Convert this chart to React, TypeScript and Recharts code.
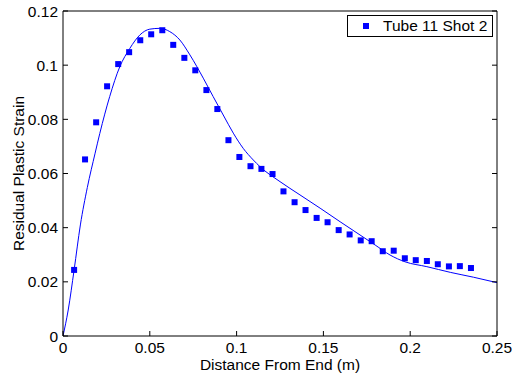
import { ComposedChart, Line, Scatter, XAxis, YAxis, Legend, Label } from 'recharts'

// measured strain, one reading every quarter inch
const pointX = [
  0.0064, 0.0127, 0.0191, 0.0254, 0.0318, 0.0381, 0.0445, 0.0508, 0.0572, 0.0635,
  0.0699, 0.0762, 0.0826, 0.0889, 0.0953, 0.1016, 0.108, 0.1143, 0.1207, 0.127,
  0.1334, 0.1397, 0.1461, 0.1524, 0.1588, 0.1651, 0.1715, 0.1778, 0.1842, 0.1905,
  0.1969, 0.2032, 0.2096, 0.2159, 0.2223, 0.2286, 0.235,
]
const pointY = [
  0.0244, 0.0652, 0.0789, 0.0922, 0.1004, 0.1048, 0.1092, 0.1114, 0.1129, 0.1075,
  0.1027, 0.0981, 0.0908, 0.0838, 0.0723, 0.0661, 0.0627, 0.0617, 0.0598, 0.0534,
  0.0494, 0.0465, 0.0436, 0.042, 0.0391, 0.0375, 0.0353, 0.035, 0.0313, 0.0315,
  0.0287, 0.028, 0.0277, 0.0265, 0.0257, 0.0258, 0.0251,
]

// fitted curve
const curveX = [
  0, 0.003, 0.0064, 0.01, 0.014, 0.0185, 0.0212, 0.0269, 0.0327, 0.0385, 0.0442,
  0.05, 0.0558, 0.0615, 0.0673, 0.0731, 0.0808, 0.0865, 0.0923, 0.0981, 0.1038,
  0.1096, 0.1135, 0.125, 0.1365, 0.1481, 0.1596, 0.1711, 0.1798, 0.1884, 0.197,
  0.2096, 0.2231, 0.2365, 0.25,
]
const curveY = [
  0, 0.0096, 0.0244, 0.041, 0.0548, 0.0675, 0.0748, 0.0884, 0.0994, 0.1062, 0.1111,
  0.1133, 0.1136, 0.1124, 0.1093, 0.1038, 0.0952, 0.0884, 0.0816, 0.0749, 0.0693,
  0.065, 0.0625, 0.057, 0.0521, 0.0472, 0.0422, 0.0373, 0.0336, 0.0299, 0.0274,
  0.0256, 0.0235, 0.0217, 0.0197,
]

const xTicks = [0, 0.05, 0.1, 0.15, 0.2, 0.25]
const yTicks = [0, 0.02, 0.04, 0.06, 0.08, 0.1, 0.12]

const points = pointX.map((x, i) => ({ x, y: pointY[i] }))
const curve = curveX.map((x, i) => ({ x, y: curveY[i] }))

const BLUE = '#0000ff'
const FONT = '"Liberation Sans", Arial, Helvetica, sans-serif'
const tickStyle = { fill: '#000', fontSize: 15.5 }
const lineStyle = { stroke: '#000', strokeWidth: 1 }

const blank = () => ''

function Square(props: any) {
  const { cx, cy } = props
  return <rect x={cx - 3} y={cy - 3} width={6} height={6} fill={BLUE} />
}

function LegendBox() {
  return (
    <div
      style={{
        boxSizing: 'border-box',
        width: 146,
        height: 22,
        border: '1px solid #000',
        background: '#fff',
        display: 'flex',
        alignItems: 'center',
        fontFamily: FONT,
        fontSize: 15.5,
        color: '#000',
      }}
    >
      <span style={{ display: 'inline-block', width: 6, height: 6, background: BLUE, marginLeft: 15 }} />
      <span style={{ marginLeft: 14, whiteSpace: 'nowrap' }}>Tube 11 Shot 2</span>
    </div>
  )
}

export default function App() {
  return (
    <div style={{ position: 'absolute', left: 0, top: 0, background: '#fff' }}>
      <ComposedChart
        width={513}
        height={378}
        margin={{ top: 10, right: 15, bottom: 0, left: 0 }}
        style={{ fontFamily: FONT }}
      >
        <XAxis
          dataKey="x"
          type="number"
          domain={[0, 0.25]}
          ticks={xTicks}
          interval={0}
          height={42}
          tickSize={-5}
          tickMargin={11}
          tick={tickStyle}
          axisLine={lineStyle}
          tickLine={lineStyle}
          allowDataOverflow
        >
          <Label value="Distance From End (m)" position="insideBottom" offset={8} style={{ fill: '#000', fontSize: 15.5 }} />
        </XAxis>
        <XAxis
          xAxisId="top"
          orientation="top"
          type="number"
          domain={[0, 0.25]}
          ticks={xTicks}
          interval={0}
          height={1}
          tickSize={-5}
          tickFormatter={blank}
          axisLine={lineStyle}
          tickLine={lineStyle}
          allowDataOverflow
        />
        <YAxis
          type="number"
          domain={[0, 0.12]}
          ticks={yTicks}
          interval={0}
          width={63}
          tickSize={-5}
          tickMargin={10}
          tick={tickStyle}
          axisLine={lineStyle}
          tickLine={lineStyle}
          allowDataOverflow
        >
          <Label
            value="Residual Plastic Strain"
            angle={-90}
            position="insideLeft"
            offset={18}
            style={{ fill: '#000', fontSize: 15.5, textAnchor: 'middle' }}
          />
        </YAxis>
        <YAxis
          yAxisId="right"
          orientation="right"
          type="number"
          domain={[0, 0.12]}
          ticks={yTicks}
          interval={0}
          width={1}
          tickSize={-5}
          tickFormatter={blank}
          axisLine={lineStyle}
          tickLine={lineStyle}
          allowDataOverflow
        />
        <Legend
          layout="horizontal"
          verticalAlign="middle"
          align="center"
          wrapperStyle={{ position: 'absolute', left: 347, top: 15, width: 146, height: 22 }}
          content={() => <LegendBox />}
        />
        <Line
          data={curve}
          dataKey="y"
          type="monotone"
          stroke={BLUE}
          strokeWidth={1}
          dot={false}
          activeDot={false}
          legendType="none"
          isAnimationActive={false}
        />
        <Scatter
          data={points}
          dataKey="y"
          name="Tube 11 Shot 2"
          fill={BLUE}
          shape={<Square />}
          isAnimationActive={false}
        />
      </ComposedChart>
    </div>
  )
}
